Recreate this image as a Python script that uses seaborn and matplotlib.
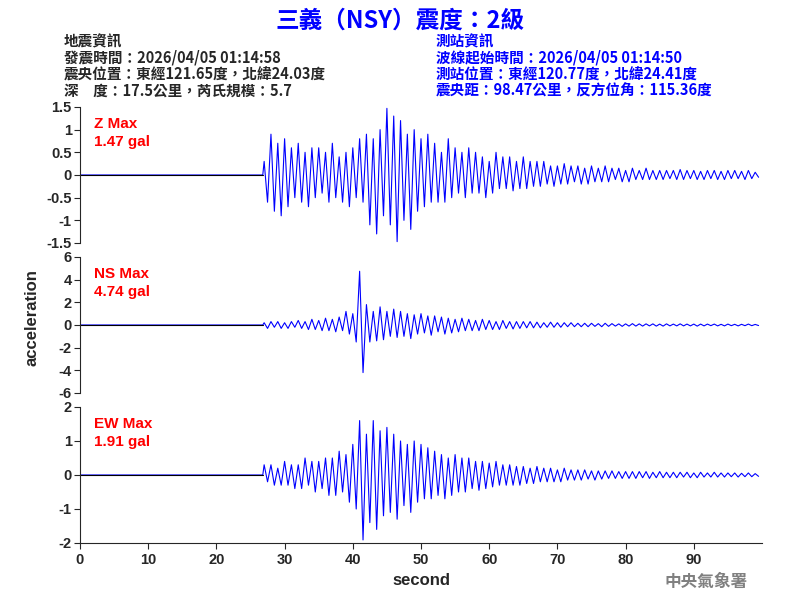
import numpy as np
import pandas as pd
import matplotlib
matplotlib.use("Agg")
import matplotlib.pyplot as plt
import seaborn as sns

# peak values read every 0.5 s from 27 s onwards (alternating sign)
z_vals = [0.3,-0.6,0.9,-0.8,0.7,-0.9,0.8,-0.7,0.6,-0.5,
          0.7,-0.6,0.5,-0.7,0.6,-0.5,0.6,-0.4,0.5,-0.6,
          0.7,-0.5,0.4,-0.6,0.5,-0.7,0.6,-0.5,0.8,-0.6,
          0.9,-1.1,0.8,-1.3,1.0,-0.9,1.47,-1.1,1.3,-1.47,
          1.2,-1.0,0.9,-1.2,1.0,-0.8,0.8,-0.7,0.9,-0.6,
          0.7,-0.6,0.5,-0.6,0.8,-0.5,0.6,-0.4,0.5,-0.5,
          0.6,-0.4,0.5,-0.4,0.4,-0.5,0.3,-0.4,0.5,-0.3,
          0.4,-0.3,0.4,-0.35,0.3,-0.3,0.4,-0.3,0.3,-0.25,
          0.3,-0.25,0.3,-0.2,0.2,-0.25,0.2,-0.2,0.25,-0.2,
          0.2,-0.15,0.2,-0.2,0.15,-0.2,0.2,-0.15,0.15,-0.15,
          0.2,-0.15,0.15,-0.1,0.15,-0.15,0.1,-0.15,0.15,-0.1,
          0.1,-0.1,0.15,-0.1,0.1,-0.1,0.1,-0.1,0.1,-0.08,
          0.1,-0.1,0.12,-0.1,0.1,-0.08,0.1,-0.1,0.08,-0.1,
          0.1,-0.08,0.1,-0.1,0.08,-0.1,0.1,-0.08,0.1,-0.08,
          0.08,-0.1,0.1,-0.08,0.06,-0.05]
ns_vals = [0.2,-0.3,0.3,-0.2,0.3,-0.3,0.2,-0.3,0.3,-0.2,
           0.4,-0.3,0.3,-0.4,0.5,-0.4,0.4,-0.5,0.6,-0.5,
           0.5,-0.6,0.7,-0.5,1.2,-0.8,1.0,-1.5,4.74,-4.2,
           1.8,-1.5,1.2,-1.4,1.6,-1.3,1.2,-1.0,1.4,-1.1,
           1.2,-1.0,1.0,-1.2,0.9,-0.8,1.0,-0.7,0.8,-0.9,
           0.8,-0.6,0.7,-0.8,0.6,-0.7,0.5,-0.6,0.6,-0.5,
           0.5,-0.5,0.4,-0.5,0.5,-0.4,0.4,-0.4,0.3,-0.4,
           0.4,-0.3,0.3,-0.35,0.3,-0.3,0.3,-0.25,0.3,-0.25,
           0.25,-0.25,0.2,-0.2,0.25,-0.2,0.2,-0.2,0.2,-0.15,
           0.2,-0.15,0.15,-0.15,0.15,-0.15,0.15,-0.12,0.12,-0.15,
           0.15,-0.12,0.12,-0.1,0.1,-0.12,0.1,-0.1,0.12,-0.1,
           0.1,-0.1,0.1,-0.08,0.1,-0.1,0.08,-0.1,0.1,-0.08,
           0.08,-0.08,0.1,-0.08,0.08,-0.08,0.08,-0.1,0.08,-0.08,
           0.08,-0.06,0.08,-0.08,0.06,-0.08,0.08,-0.06,0.06,-0.08,
           0.06,-0.06,0.08,-0.06,0.05,-0.05]
ew_vals = [0.3,-0.2,0.3,-0.3,0.2,-0.3,0.4,-0.3,0.3,-0.4,
           0.3,-0.4,0.5,-0.3,0.4,-0.5,0.4,-0.4,0.5,-0.6,
           0.5,-0.6,0.7,-0.5,0.6,-0.8,0.9,-1.0,1.6,-1.91,
           1.2,-1.4,1.6,-1.6,1.3,-1.2,1.4,-1.1,1.2,-1.3,
           1.0,-0.9,0.9,-1.1,1.0,-0.8,0.9,-0.7,0.8,-0.7,
           0.7,-0.6,0.6,-0.7,0.5,-0.6,0.6,-0.5,0.5,-0.5,
           0.5,-0.4,0.4,-0.45,0.4,-0.4,0.35,-0.35,0.4,-0.3,
           0.3,-0.3,0.3,-0.3,0.25,-0.3,0.25,-0.25,0.2,-0.25,
           0.25,-0.2,0.2,-0.2,0.2,-0.2,0.15,-0.2,0.2,-0.15,
           0.15,-0.15,0.15,-0.15,0.15,-0.12,0.12,-0.15,0.12,-0.12,
           0.12,-0.1,0.12,-0.1,0.1,-0.1,0.1,-0.1,0.1,-0.1,
           0.1,-0.08,0.1,-0.1,0.08,-0.08,0.1,-0.08,0.08,-0.08,
           0.08,-0.08,0.08,-0.06,0.08,-0.08,0.06,-0.08,0.08,-0.06,
           0.06,-0.06,0.08,-0.06,0.06,-0.06,0.06,-0.05,0.06,-0.06,
           0.05,-0.05,0.06,-0.05,0.04,-0.04]

t = np.concatenate([[0.0, 26.8], np.arange(27, 100, 0.5)])

labels = ["Z Max\n1.47 gal", "NS Max\n4.74 gal", "EW Max\n1.91 gal"]
ylims = [1.5, 6, 2]
yticks = [[-1.5, -1, -0.5, 0, 0.5, 1, 1.5], [-6, -4, -2, 0, 2, 4, 6], [-2, -1, 0, 1, 2]]
ytick_labels = [["-1.5", "-1", "-0.5", "0", "0.5", "1", "1.5"],
                ["-6", "-4", "-2", "0", "2", "4", "6"],
                ["-2", "-1", "0", "1", "2"]]

sns.set_style("white")
plt.rcParams['font.family'] = ['Noto Sans CJK TC', 'DejaVu Sans']

fig = plt.figure(figsize=(8, 6), dpi=100)
bottoms = [0.595, 0.345, 0.095]
for i, vals in enumerate([z_vals, ns_vals, ew_vals]):
    ax = fig.add_axes([0.1, bottoms[i], 0.8525, 0.2267])
    df = pd.DataFrame({"t": t, "a": [0.0, 0.0] + vals})
    sns.lineplot(data=df, x="t", y="a", ax=ax, color="blue", linewidth=0.8)
    ax.plot([0, 26.8], [0, 0], color="black", linewidth=0.8)
    ax.set_xlim(0, 100)
    ax.set_ylim(-ylims[i], ylims[i])
    ax.set_yticks(yticks[i])
    ax.set_yticklabels(ytick_labels[i], fontsize=10.5, family="Liberation Sans", fontweight="bold")
    ax.set_xlabel("")
    ax.set_ylabel("")
    ax.tick_params(axis="y", length=4, direction="out", left=True, pad=2)
    for s in ["top", "right"]:
        ax.spines[s].set_visible(False)
    ax.text(0.02, 0.93, labels[i], transform=ax.transAxes, color="red", fontweight="bold",
            fontsize=11, va="top", family="Liberation Sans", linespacing=1.4)
    if i < 2:
        ax.spines["bottom"].set_visible(False)
        ax.set_xticks([])
    else:
        ax.set_xticks([0, 10, 20, 30, 40, 50, 60, 70, 80, 90])
        ax.set_xticklabels([str(v) for v in range(0, 100, 10)], fontsize=10.5,
                           family="Liberation Sans", fontweight="bold")
        ax.tick_params(axis="x", length=4, direction="out", bottom=True)
        ax.set_xlabel("second", fontsize=12, family="Liberation Sans", fontweight="bold")

fig.text(0.04, 0.47, "acceleration", rotation=90, ha="center", va="center", fontsize=12,
         family="Liberation Sans", fontweight="bold")

fig.text(0.5, 0.965, "三義（NSY）震度：2級", ha="center", va="center", color="blue", fontsize=17, fontweight="bold")
left = "地震資訊\n發震時間：2026/04/05 01:14:58\n震央位置：東經121.65度，北緯24.03度\n深　度：17.5公里，芮氏規模：5.7"
right = "測站資訊\n波線起始時間：2026/04/05 01:14:50\n測站位置：東經120.77度，北緯24.41度\n震央距：98.47公里，反方位角：115.36度"
fig.text(0.08, 0.945, left, ha="left", va="top", fontsize=10.5, fontweight="bold", linespacing=1.05)
fig.text(0.545, 0.945, right, ha="left", va="top", fontsize=10.5, fontweight="bold", color="blue", linespacing=1.05)
fig.text(0.935, 0.03, "中央氣象署", ha="right", va="center", color="gray", fontsize=12, fontweight="bold")

fig.savefig("out.png", dpi=100)
